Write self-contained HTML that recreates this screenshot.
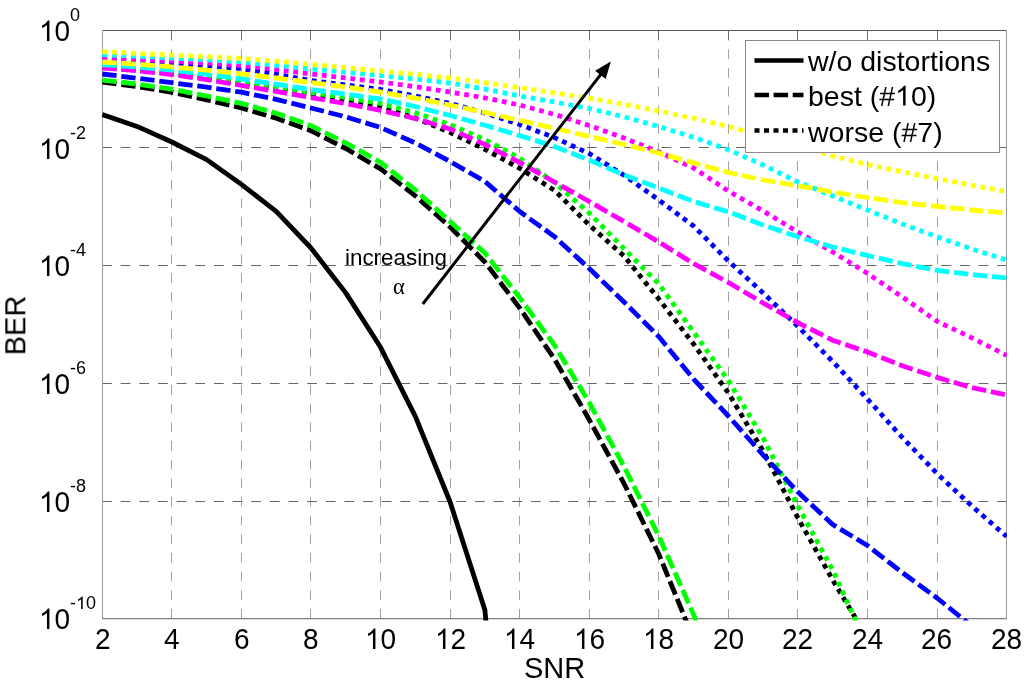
<!DOCTYPE html>
<html><head><meta charset="utf-8"><style>
html,body{margin:0;padding:0;background:#fff;}
body{width:1024px;height:687px;overflow:hidden;position:relative;font-family:"Liberation Sans", sans-serif;}
svg{position:absolute;left:0;top:0;}
.gv{stroke:#a2a2a2;stroke-width:1;stroke-dasharray:9.8 8.85;}
.gh{stroke:#666;stroke-width:1;stroke-dasharray:9.8 8.85;}
.tk{stroke:#6a6a6a;stroke-width:1;}
.t{position:absolute;color:#000;white-space:nowrap;line-height:1;will-change:transform;}
.one{display:inline-block;width:0.5562em;height:0.7275em;position:relative;}
.one svg{position:absolute;left:0;bottom:0;transform:translateY(-0.012em);width:100%;height:100%;fill:currentColor;overflow:visible;}
</style></head><body>
<svg width="1024" height="687" viewBox="0 0 1024 687">
<defs><clipPath id="ax"><rect x="102" y="30" width="905" height="590.5"/></clipPath></defs>
<line x1="171.50" y1="618.7" x2="171.50" y2="30" class="gv"/><line x1="171.50" y1="30" x2="171.50" y2="39.5" class="tk"/><line x1="241.50" y1="618.7" x2="241.50" y2="30" class="gv"/><line x1="241.50" y1="30" x2="241.50" y2="39.5" class="tk"/><line x1="310.50" y1="618.7" x2="310.50" y2="30" class="gv"/><line x1="310.50" y1="30" x2="310.50" y2="39.5" class="tk"/><line x1="380.50" y1="618.7" x2="380.50" y2="30" class="gv"/><line x1="380.50" y1="30" x2="380.50" y2="39.5" class="tk"/><line x1="450.50" y1="618.7" x2="450.50" y2="30" class="gv"/><line x1="450.50" y1="30" x2="450.50" y2="39.5" class="tk"/><line x1="519.50" y1="618.7" x2="519.50" y2="30" class="gv"/><line x1="519.50" y1="30" x2="519.50" y2="39.5" class="tk"/><line x1="589.50" y1="618.7" x2="589.50" y2="30" class="gv"/><line x1="589.50" y1="30" x2="589.50" y2="39.5" class="tk"/><line x1="658.50" y1="618.7" x2="658.50" y2="30" class="gv"/><line x1="658.50" y1="30" x2="658.50" y2="39.5" class="tk"/><line x1="728.50" y1="618.7" x2="728.50" y2="30" class="gv"/><line x1="728.50" y1="30" x2="728.50" y2="39.5" class="tk"/><line x1="797.50" y1="618.7" x2="797.50" y2="30" class="gv"/><line x1="797.50" y1="30" x2="797.50" y2="39.5" class="tk"/><line x1="867.50" y1="618.7" x2="867.50" y2="30" class="gv"/><line x1="867.50" y1="30" x2="867.50" y2="39.5" class="tk"/><line x1="937.50" y1="618.7" x2="937.50" y2="30" class="gv"/><line x1="937.50" y1="30" x2="937.50" y2="39.5" class="tk"/><line x1="102" y1="147.5" x2="1006.5" y2="147.5" class="gh"/><line x1="1007" y1="147.5" x2="997.5" y2="147.5" class="tk"/><line x1="102" y1="265.5" x2="1006.5" y2="265.5" class="gh"/><line x1="1007" y1="265.5" x2="997.5" y2="265.5" class="tk"/><line x1="102" y1="383.5" x2="1006.5" y2="383.5" class="gh"/><line x1="1007" y1="383.5" x2="997.5" y2="383.5" class="tk"/><line x1="102" y1="501.5" x2="1006.5" y2="501.5" class="gh"/><line x1="1007" y1="501.5" x2="997.5" y2="501.5" class="tk"/><line x1="102" y1="30.5" x2="1007" y2="30.5" stroke="#585858" stroke-width="1"/><line x1="102" y1="618.6" x2="1007" y2="618.6" stroke="#808080" stroke-width="1.2"/><line x1="102.5" y1="30" x2="102.5" y2="619" stroke="#969696" stroke-width="1"/><line x1="1006.5" y1="30" x2="1006.5" y2="619" stroke="#969696" stroke-width="1"/>
<g clip-path="url(#ax)">
<polyline points="102.30,114.60 137.08,126.40 171.86,142.00 206.64,159.60 241.42,184.40 276.20,211.30 310.98,248.00 345.77,292.90 380.55,347.30 415.33,416.40 450.11,502.00 484.89,610.00 519.67,990.00" fill="none" stroke="#000" stroke-width="4.8"  stroke-linejoin="round" stroke-linecap="butt"/><polyline points="102.30,82.20 137.08,86.56 171.86,92.30 206.64,99.80 241.42,108.00 276.20,118.14 310.98,130.70 345.77,148.50 380.55,168.90 415.33,195.81 450.11,227.00 484.89,262.00 519.67,308.00 554.45,359.00 589.23,419.70 624.01,483.50 658.79,554.00 693.57,639.00" fill="none" stroke="#000" stroke-width="4.8" stroke-dasharray="14.36 4.79" stroke-linejoin="round" stroke-linecap="butt"/><polyline points="102.30,67.50 137.08,70.06 171.86,73.50 206.64,78.13 241.42,83.50 276.20,88.85 310.98,94.50 345.77,100.07 380.55,106.90 415.33,118.10 450.11,132.50 484.89,149.30 519.67,168.30 554.45,190.30 589.23,225.00 624.01,256.00 658.79,299.00 693.57,344.00 728.35,393.00 763.13,451.00 797.92,518.00 832.70,580.00 867.48,638.00" fill="none" stroke="#000" stroke-width="4.8" stroke-dasharray="4.79 4.79" stroke-linejoin="round" stroke-linecap="butt"/><polyline points="102.30,80.10 137.08,84.02 171.86,89.20 206.64,96.00 241.42,103.40 276.20,113.21 310.98,125.60 345.77,142.90 380.55,162.30 415.33,189.97 450.11,221.50 484.89,253.00 519.67,297.60 554.45,345.20 589.23,402.50 624.01,466.50 658.79,536.00 693.57,614.60 728.35,700.00" fill="none" stroke="#00ff00" stroke-width="4.8" stroke-dasharray="14.36 4.79" stroke-linejoin="round" stroke-linecap="butt"/><polyline points="102.30,66.00 137.08,68.61 171.86,72.00 206.64,76.39 241.42,81.50 276.20,86.90 310.98,92.50 345.77,97.57 380.55,103.50 415.33,112.71 450.11,124.60 484.89,139.50 519.67,158.00 554.45,182.50 589.23,213.00 624.01,248.60 658.79,284.00 693.57,332.00 728.35,380.50 763.13,438.00 797.92,506.00 832.70,570.00 867.48,646.60" fill="none" stroke="#00ff00" stroke-width="4.8" stroke-dasharray="4.79 4.79" stroke-linejoin="round" stroke-linecap="butt"/><polyline points="102.30,74.00 137.08,78.25 171.86,82.70 206.64,87.10 241.42,92.20 276.20,99.40 310.98,108.00 345.77,116.83 380.55,127.50 415.33,142.96 450.11,161.50 484.89,181.50 519.67,211.50 554.45,236.60 589.23,268.50 624.01,302.00 658.79,336.60 693.57,379.10 728.35,416.00 763.13,455.00 797.92,492.00 832.70,524.50 867.48,545.50 902.26,572.60 937.04,598.00 971.82,626.00 1006.60,655.00" fill="none" stroke="#0000ff" stroke-width="4.8" stroke-dasharray="14.36 4.79" stroke-linejoin="round" stroke-linecap="butt"/><polyline points="102.30,59.50 137.08,61.22 171.86,63.30 206.64,65.63 241.42,68.70 276.20,74.25 310.98,80.50 345.77,84.92 380.55,89.50 415.33,96.00 450.11,103.50 484.89,113.00 519.67,124.50 554.45,137.60 589.23,153.50 624.01,175.20 658.79,200.00 693.57,226.00 728.35,261.00 763.13,293.00 797.92,326.40 832.70,361.50 867.48,399.00 902.26,437.50 937.04,473.50 971.82,506.00 1006.60,536.50" fill="none" stroke="#0000ff" stroke-width="4.8" stroke-dasharray="4.79 4.79" stroke-linejoin="round" stroke-linecap="butt"/><polyline points="102.30,67.90 137.08,70.72 171.86,74.50 206.64,79.59 241.42,85.50 276.20,91.44 310.98,97.60 345.77,103.61 380.55,110.30 415.33,118.54 450.11,129.00 484.89,144.50 519.67,162.50 554.45,182.00 589.23,201.50 624.01,221.50 658.79,242.00 693.57,263.50 728.35,282.50 763.13,303.00 797.92,322.70 832.70,340.30 867.48,352.00 902.26,365.70 937.04,377.40 971.82,387.60 1006.60,395.00" fill="none" stroke="#ff00ff" stroke-width="4.8" stroke-dasharray="14.36 4.79" stroke-linejoin="round" stroke-linecap="butt"/><polyline points="102.30,57.50 137.08,59.12 171.86,61.00 206.64,63.05 241.42,65.60 276.20,69.52 310.98,74.00 345.77,77.91 380.55,82.00 415.33,86.70 450.11,92.00 484.89,97.92 519.67,105.00 554.45,114.35 589.23,125.50 624.01,137.98 658.79,152.00 693.57,168.00 728.35,191.00 763.13,211.00 797.92,232.00 832.70,252.00 867.48,273.40 902.26,297.00 937.04,321.30 971.82,337.80 1006.60,355.40" fill="none" stroke="#ff00ff" stroke-width="4.8" stroke-dasharray="4.79 4.79" stroke-linejoin="round" stroke-linecap="butt"/><polyline points="102.30,64.70 137.08,66.96 171.86,70.00 206.64,74.07 241.42,78.90 276.20,84.21 310.98,89.60 345.77,94.05 380.55,99.00 415.33,106.48 450.11,115.50 484.89,125.20 519.67,135.60 554.45,146.40 589.23,160.00 624.01,175.00 658.79,188.00 693.57,201.50 728.35,211.80 763.13,225.00 797.92,236.80 832.70,247.00 867.48,255.50 902.26,263.70 937.04,270.30 971.82,274.50 1006.60,278.00" fill="none" stroke="#00ffff" stroke-width="4.8" stroke-dasharray="14.36 4.79" stroke-linejoin="round" stroke-linecap="butt"/><polyline points="102.30,54.60 137.08,56.23 171.86,58.00 206.64,59.82 241.42,62.00 276.20,65.29 310.98,69.00 345.77,72.28 380.55,75.60 415.33,78.99 450.11,83.00 484.89,89.09 519.67,96.00 554.45,102.00 589.23,108.50 624.01,116.81 658.79,126.50 693.57,137.28 728.35,149.70 763.13,165.00 797.92,182.00 832.70,196.00 867.48,210.00 902.26,224.00 937.04,236.80 971.82,249.00 1006.60,260.00" fill="none" stroke="#00ffff" stroke-width="4.8" stroke-dasharray="4.79 4.79" stroke-linejoin="round" stroke-linecap="butt"/><polyline points="102.30,62.00 137.08,64.22 171.86,66.90 206.64,70.10 241.42,73.80 276.20,77.98 310.98,82.50 345.77,87.01 380.55,92.00 415.33,98.11 450.11,105.00 484.89,112.50 519.67,120.40 554.45,128.32 589.23,136.40 624.01,144.50 658.79,153.00 693.57,162.90 728.35,172.50 763.13,180.00 797.92,185.70 832.70,192.00 867.48,197.50 902.26,202.70 937.04,206.40 971.82,210.00 1006.60,213.00" fill="none" stroke="#ffff00" stroke-width="4.8" stroke-dasharray="14.36 4.79" stroke-linejoin="round" stroke-linecap="butt"/><polyline points="102.30,51.60 137.08,53.36 171.86,55.10 206.64,56.69 241.42,58.50 276.20,61.20 310.98,64.40 345.77,67.68 380.55,71.10 415.33,74.39 450.11,78.00 484.89,82.60 519.67,87.70 554.45,92.77 589.23,98.20 624.01,104.29 658.79,111.00 693.57,118.34 728.35,126.50 763.13,136.00 797.92,145.00 832.70,156.00 867.48,164.50 902.26,171.80 937.04,178.60 971.82,185.27 1006.60,191.70" fill="none" stroke="#ffff00" stroke-width="4.8" stroke-dasharray="4.79 4.79" stroke-linejoin="round" stroke-linecap="butt"/>
</g>
<rect x="745.5" y="40.5" width="254" height="112" fill="#fff" stroke="#8a8a8a" stroke-width="1"/><line x1="754.5" y1="60.5" x2="803.5" y2="60.5" stroke="#000" stroke-width="4.6"/><line x1="754.5" y1="95" x2="803.5" y2="95" stroke="#000" stroke-width="4.6" stroke-dasharray="14.5 4.6"/><line x1="754.5" y1="130.5" x2="803.5" y2="130.5" stroke="#000" stroke-width="4.6" stroke-dasharray="5 4.5"/><line x1="422.8" y1="304" x2="601.61" y2="73.35" stroke="#000" stroke-width="3"/><polygon points="610.8,61.5 605.68,79.04 595.09,70.83" fill="#000"/>
</svg>
<div class="t" style="left:39px;top:17.8px;font-size:28px;transform:scaleY(1.065);transform-origin:0 84.65%;"><span class="one"><svg viewBox="0 -1552 1139 1552" preserveAspectRatio="none"><path d="M763 0H583V-1147C540-1106 483-1064 413-1023C343-982 280-951 223-930V-1104C324-1151 412-1209 487-1276C562-1343 615-1409 646-1472H763Z"/></svg></span>0</div>
<div class="t" style="left:70px;top:5.800000000000001px;font-size:18px;">0</div>
<div class="t" style="left:39px;top:135.5px;font-size:28px;transform:scaleY(1.065);transform-origin:0 84.65%;"><span class="one"><svg viewBox="0 -1552 1139 1552" preserveAspectRatio="none"><path d="M763 0H583V-1147C540-1106 483-1064 413-1023C343-982 280-951 223-930V-1104C324-1151 412-1209 487-1276C562-1343 615-1409 646-1472H763Z"/></svg></span>0</div>
<div class="t" style="left:70px;top:123.49999999999999px;font-size:18px;">-2</div>
<div class="t" style="left:39px;top:253.2px;font-size:28px;transform:scaleY(1.065);transform-origin:0 84.65%;"><span class="one"><svg viewBox="0 -1552 1139 1552" preserveAspectRatio="none"><path d="M763 0H583V-1147C540-1106 483-1064 413-1023C343-982 280-951 223-930V-1104C324-1151 412-1209 487-1276C562-1343 615-1409 646-1472H763Z"/></svg></span>0</div>
<div class="t" style="left:70px;top:241.2px;font-size:18px;">-4</div>
<div class="t" style="left:39px;top:370.90000000000003px;font-size:28px;transform:scaleY(1.065);transform-origin:0 84.65%;"><span class="one"><svg viewBox="0 -1552 1139 1552" preserveAspectRatio="none"><path d="M763 0H583V-1147C540-1106 483-1064 413-1023C343-982 280-951 223-930V-1104C324-1151 412-1209 487-1276C562-1343 615-1409 646-1472H763Z"/></svg></span>0</div>
<div class="t" style="left:70px;top:358.90000000000003px;font-size:18px;">-6</div>
<div class="t" style="left:39px;top:488.6px;font-size:28px;transform:scaleY(1.065);transform-origin:0 84.65%;"><span class="one"><svg viewBox="0 -1552 1139 1552" preserveAspectRatio="none"><path d="M763 0H583V-1147C540-1106 483-1064 413-1023C343-982 280-951 223-930V-1104C324-1151 412-1209 487-1276C562-1343 615-1409 646-1472H763Z"/></svg></span>0</div>
<div class="t" style="left:70px;top:476.6px;font-size:18px;">-8</div>
<div class="t" style="left:39px;top:606.3px;font-size:28px;transform:scaleY(1.065);transform-origin:0 84.65%;"><span class="one"><svg viewBox="0 -1552 1139 1552" preserveAspectRatio="none"><path d="M763 0H583V-1147C540-1106 483-1064 413-1023C343-982 280-951 223-930V-1104C324-1151 412-1209 487-1276C562-1343 615-1409 646-1472H763Z"/></svg></span>0</div>
<div class="t" style="left:70px;top:594.3px;font-size:18px;">-<span class="one"><svg viewBox="0 -1552 1139 1552" preserveAspectRatio="none"><path d="M763 0H583V-1147C540-1106 483-1064 413-1023C343-982 280-951 223-930V-1104C324-1151 412-1209 487-1276C562-1343 615-1409 646-1472H763Z"/></svg></span>0</div>
<div class="t" style="left:94.5px;top:626px;font-size:28px;transform:scaleY(1.065);transform-origin:0 84.65%;">2</div>
<div class="t" style="left:164.06153846153845px;top:626px;font-size:28px;transform:scaleY(1.065);transform-origin:0 84.65%;">4</div>
<div class="t" style="left:233.6230769230769px;top:626px;font-size:28px;transform:scaleY(1.065);transform-origin:0 84.65%;">6</div>
<div class="t" style="left:303.18461538461537px;top:626px;font-size:28px;transform:scaleY(1.065);transform-origin:0 84.65%;">8</div>
<div class="t" style="left:364.94615384615383px;top:626px;font-size:28px;transform:scaleY(1.065);transform-origin:0 84.65%;"><span class="one"><svg viewBox="0 -1552 1139 1552" preserveAspectRatio="none"><path d="M763 0H583V-1147C540-1106 483-1064 413-1023C343-982 280-951 223-930V-1104C324-1151 412-1209 487-1276C562-1343 615-1409 646-1472H763Z"/></svg></span>0</div>
<div class="t" style="left:434.5076923076923px;top:626px;font-size:28px;transform:scaleY(1.065);transform-origin:0 84.65%;"><span class="one"><svg viewBox="0 -1552 1139 1552" preserveAspectRatio="none"><path d="M763 0H583V-1147C540-1106 483-1064 413-1023C343-982 280-951 223-930V-1104C324-1151 412-1209 487-1276C562-1343 615-1409 646-1472H763Z"/></svg></span>2</div>
<div class="t" style="left:504.0692307692308px;top:626px;font-size:28px;transform:scaleY(1.065);transform-origin:0 84.65%;"><span class="one"><svg viewBox="0 -1552 1139 1552" preserveAspectRatio="none"><path d="M763 0H583V-1147C540-1106 483-1064 413-1023C343-982 280-951 223-930V-1104C324-1151 412-1209 487-1276C562-1343 615-1409 646-1472H763Z"/></svg></span>4</div>
<div class="t" style="left:573.6307692307693px;top:626px;font-size:28px;transform:scaleY(1.065);transform-origin:0 84.65%;"><span class="one"><svg viewBox="0 -1552 1139 1552" preserveAspectRatio="none"><path d="M763 0H583V-1147C540-1106 483-1064 413-1023C343-982 280-951 223-930V-1104C324-1151 412-1209 487-1276C562-1343 615-1409 646-1472H763Z"/></svg></span>6</div>
<div class="t" style="left:643.1923076923076px;top:626px;font-size:28px;transform:scaleY(1.065);transform-origin:0 84.65%;"><span class="one"><svg viewBox="0 -1552 1139 1552" preserveAspectRatio="none"><path d="M763 0H583V-1147C540-1106 483-1064 413-1023C343-982 280-951 223-930V-1104C324-1151 412-1209 487-1276C562-1343 615-1409 646-1472H763Z"/></svg></span>8</div>
<div class="t" style="left:712.7538461538461px;top:626px;font-size:28px;transform:scaleY(1.065);transform-origin:0 84.65%;">20</div>
<div class="t" style="left:782.3153846153846px;top:626px;font-size:28px;transform:scaleY(1.065);transform-origin:0 84.65%;">22</div>
<div class="t" style="left:851.876923076923px;top:626px;font-size:28px;transform:scaleY(1.065);transform-origin:0 84.65%;">24</div>
<div class="t" style="left:921.4384615384615px;top:626px;font-size:28px;transform:scaleY(1.065);transform-origin:0 84.65%;">26</div>
<div class="t" style="left:991.0px;top:626px;font-size:28px;transform:scaleY(1.065);transform-origin:0 84.65%;">28</div>
<div class="t" style="left:524px;top:654px;font-size:29px;">SNR</div>
<div class="t" style="left:-14px;top:311px;font-size:29px;transform:rotate(-90deg);transform-origin:50% 50%;">BER</div>
<div class="t" style="left:808px;top:46.8px;font-size:28.5px;">w/o distortions</div>
<div class="t" style="left:808px;top:82.3px;font-size:28.5px;">best (#<span class="one"><svg viewBox="0 -1552 1139 1552" preserveAspectRatio="none"><path d="M763 0H583V-1147C540-1106 483-1064 413-1023C343-982 280-951 223-930V-1104C324-1151 412-1209 487-1276C562-1343 615-1409 646-1472H763Z"/></svg></span>0)</div>
<div class="t" style="left:808px;top:118.4px;font-size:28.5px;">worse (#7)</div>
<div class="t" style="left:345px;top:246.6px;font-size:22.4px;">increasing</div>
<div class="t" style="left:392.8px;top:275.6px;font-size:22.5px;font-family:'Liberation Serif',serif;">&alpha;</div>
</body></html>
